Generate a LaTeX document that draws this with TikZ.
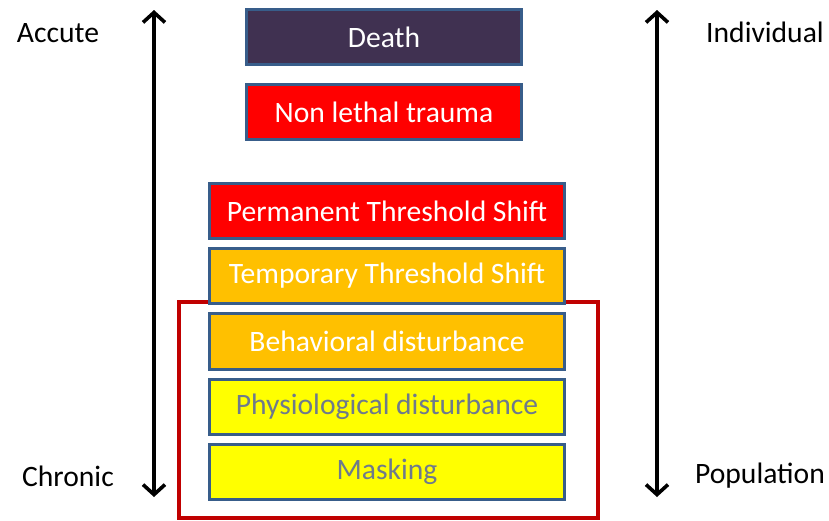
\documentclass[tikz,border=0pt]{standalone}
\usepackage{fontspec}
\setmainfont{Carlito}
\usetikzlibrary{arrows.meta}
\definecolor{deathfill}{HTML}{403151}
\definecolor{redfill}{HTML}{FF0000}
\definecolor{orangefill}{HTML}{FFC000}
\definecolor{yellowfill}{HTML}{FFFF00}
\definecolor{boxborder}{HTML}{385D8A}
\definecolor{graytext}{HTML}{6E7A8C}
\definecolor{framered}{HTML}{C00000}
\tikzset{
  levelbox/.style={draw=boxborder, line width=2.6pt, rectangle, minimum height=55.5pt,
    inner sep=0pt, font=\fontsize{29.6}{33}\selectfont},
  topbox/.style={levelbox, minimum width=275.5pt},
  widebox/.style={levelbox, minimum width=355.5pt},
  sidelabel/.style={anchor=base, font=\fontsize{29.6}{33}\selectfont, text=black},
  scalearrow/.style={line width=3.6pt, {Straight Barb[length=10pt,width=22pt]}-{Straight Barb[length=10pt,width=22pt]}}
}
\begin{document}
\begin{tikzpicture}[x=1pt,y=-1pt]
\useasboundingbox (0,0) rectangle (829,520);
\node[draw=framered, line width=4pt, minimum width=419pt, minimum height=216pt, inner sep=0pt] (frame) at (388,409.5) {};
\node[topbox, fill=deathfill, text=white] (death) at (384,37) {Death};
\node[topbox, fill=redfill, text=white] (nlt) at (384,112) {Non lethal trauma};
\node[widebox, fill=redfill, text=white] (pts) at (387,211) {Permanent Threshold Shift};
\node[widebox, fill=orangefill, text=white] (tts) at (387,276) {Temporary Threshold Shift};
\node[widebox, fill=orangefill, text=white] (beh) at (387,341.5) {Behavioral disturbance};
\node[widebox, fill=yellowfill, text=graytext] (phys) at (387,407) {Physiological disturbance};
\node[widebox, fill=yellowfill, text=graytext] (mask) at (387,472) {Masking};
\coordinate (ltop) at (154,10);
\coordinate (lbot) at (154,497);
\coordinate (rtop) at (657,10);
\coordinate (rbot) at (657,497);
\draw[scalearrow] (lbot) -- (ltop);
\draw[scalearrow] (rbot) -- (rtop);
\node[sidelabel] (accute) at (58,42) {Accute};
\node[sidelabel] (chronic) at (68,486) {Chronic};
\node[sidelabel] (indiv) at (765,42) {Individual};
\node[sidelabel] (popul) at (760,483) {Population};
\end{tikzpicture}
\end{document}
